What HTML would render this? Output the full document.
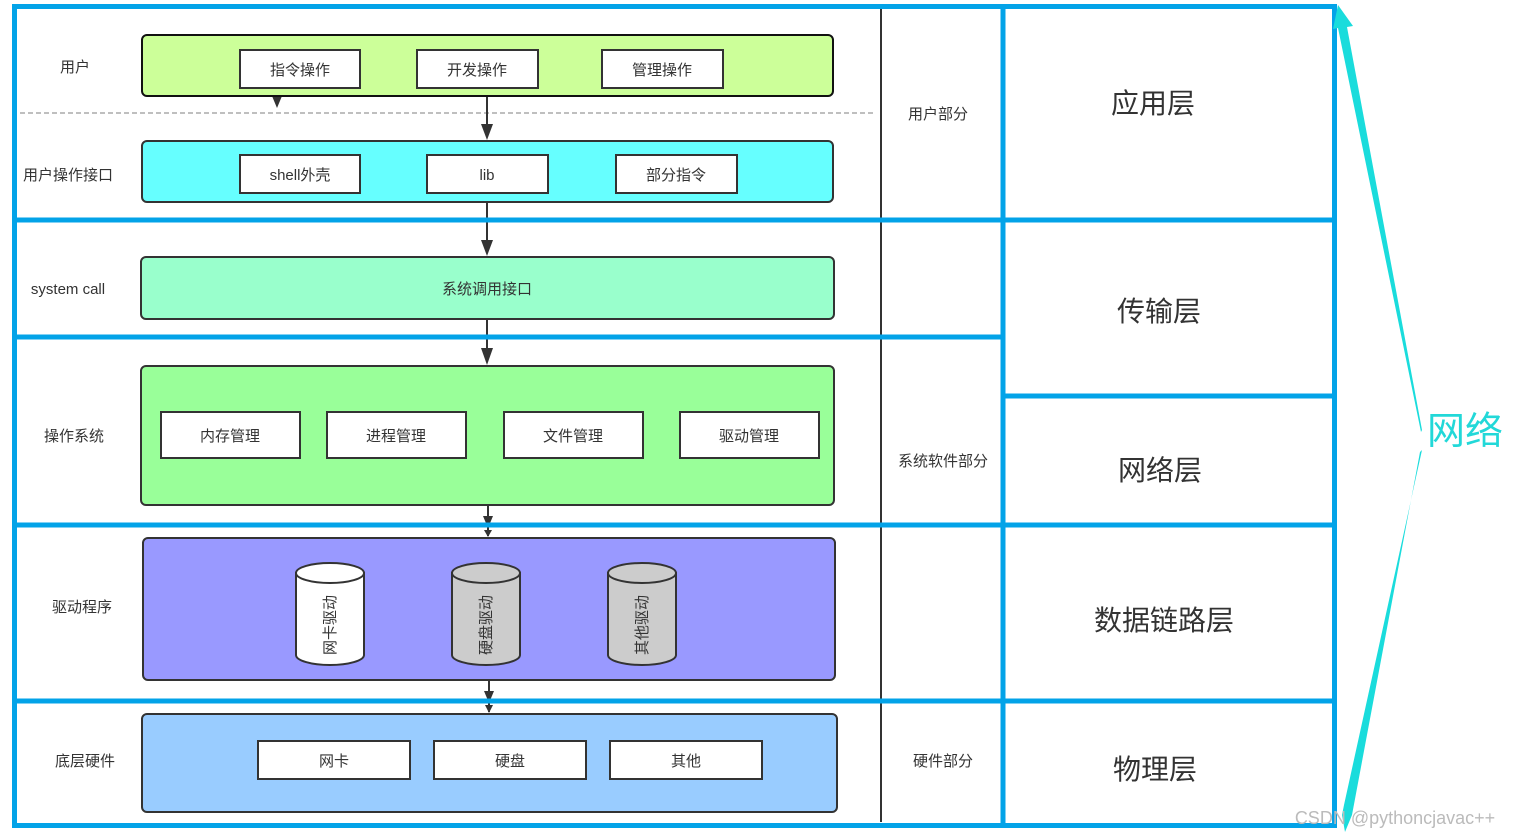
<!DOCTYPE html>
<html><head><meta charset="utf-8"><style>
html,body{margin:0;padding:0;background:#fff;width:1514px;height:837px;overflow:hidden}
text{font-family:"Liberation Sans","Noto Sans CJK SC",sans-serif;fill:#333}
</style></head><body>
<svg width="1514" height="837" viewBox="0 0 1514 837" xmlns="http://www.w3.org/2000/svg">
<line x1="20" y1="113" x2="876" y2="113" stroke="#aaa" stroke-width="1.5" stroke-dasharray="5,3"/>
<line x1="881" y1="8" x2="881" y2="822" stroke="#333" stroke-width="2"/>
<g stroke="#333" stroke-width="2" fill="none">
<line x1="487" y1="96" x2="487" y2="128"/>
<line x1="487" y1="202" x2="487" y2="244"/>
<line x1="487" y1="319" x2="487" y2="352"/>
<line x1="488" y1="505" x2="488" y2="536"/>
<line x1="489" y1="680" x2="489" y2="712"/>
</g>
<g fill="#333">
<path d="M481,124 L493,124 L487,140 Z"/>
<path d="M481,240 L493,240 L487,256 Z"/>
<path d="M481,348 L493,348 L487,365 Z"/>
<path d="M272,96 L282,96 L277,108 Z"/>
<path d="M483,516 L493,516 L488,528 Z"/>
<path d="M484,530 L492,530 L488,537 Z"/>
<path d="M484,691 L494,691 L489,703 Z"/>
<path d="M485,705 L493,705 L489,713 Z"/>
</g>
<g stroke="#03a3e8" stroke-width="5" fill="none">
<rect x="14.5" y="6.5" width="1320" height="819"/>
<line x1="1003" y1="6" x2="1003" y2="826"/>
<line x1="14" y1="220" x2="1335" y2="220"/>
<line x1="14" y1="337" x2="1003" y2="337"/>
<line x1="1003" y1="396" x2="1335" y2="396"/>
<line x1="14" y1="525" x2="1335" y2="525"/>
<line x1="14" y1="701" x2="1335" y2="701"/>
</g>
<g stroke="#333" stroke-width="2">
<rect x="142" y="35" width="691" height="61" rx="5" fill="#ccff99" stroke="#111"/>
<rect x="142" y="141" width="691" height="61" rx="5" fill="#66ffff"/>
<rect x="141" y="257" width="693" height="62" rx="5" fill="#99ffcc"/>
<rect x="141" y="366" width="693" height="139" rx="5" fill="#99ff99"/>
<rect x="143" y="538" width="692" height="142" rx="5" fill="#9999ff"/>
<rect x="142" y="714" width="695" height="98" rx="5" fill="#99ccff"/>
</g>
<g stroke="#333" stroke-width="2" fill="#fff">
<rect x="240" y="50" width="120" height="38"/><rect x="417" y="50" width="121" height="38"/><rect x="602" y="50" width="121" height="38"/>
<rect x="240" y="155" width="120" height="38"/><rect x="427" y="155" width="121" height="38"/><rect x="616" y="155" width="121" height="38"/>
<rect x="161" y="412" width="139" height="46"/><rect x="327" y="412" width="139" height="46"/><rect x="504" y="412" width="139" height="46"/><rect x="680" y="412" width="139" height="46"/>
<rect x="258" y="741" width="152" height="38"/><rect x="434" y="741" width="152" height="38"/><rect x="610" y="741" width="152" height="38"/>
</g>
<g stroke="#333" stroke-width="2">
<path d="M296,573 L296,655 A34,10 0 0 0 364,655 L364,573 Z" fill="#fff"/><ellipse cx="330" cy="573" rx="34" ry="10" fill="#fff"/>
<path d="M452,573 L452,655 A34,10 0 0 0 520,655 L520,573 Z" fill="#ccc"/><ellipse cx="486" cy="573" rx="34" ry="10" fill="#ccc"/>
<path d="M608,573 L608,655 A34,10 0 0 0 676,655 L676,573 Z" fill="#ccc"/><ellipse cx="642" cy="573" rx="34" ry="10" fill="#ccc"/>
</g>
<g font-size="15" text-anchor="middle">
<text x="330" y="625" transform="rotate(-90 330 625)" dy="5">网卡驱动</text>
<text x="486" y="625" transform="rotate(-90 486 625)" dy="5">硬盘驱动</text>
<text x="642" y="625" transform="rotate(-90 642 625)" dy="5">其他驱动</text>
</g>
<g font-size="15" text-anchor="middle">
<text x="300" y="75">指令操作</text><text x="477" y="75">开发操作</text><text x="662" y="75">管理操作</text>
<text x="300" y="180">shell外壳</text><text x="487" y="180">lib</text><text x="676" y="180">部分指令</text>
<text x="487" y="294">系统调用接口</text>
<text x="230" y="441">内存管理</text><text x="396" y="441">进程管理</text><text x="573" y="441">文件管理</text><text x="749" y="441">驱动管理</text>
<text x="334" y="766">网卡</text><text x="510" y="766">硬盘</text><text x="686" y="766">其他</text>
<text x="75" y="72">用户</text><text x="68" y="180">用户操作接口</text><text x="68" y="294">system call</text>
<text x="74" y="441">操作系统</text><text x="82" y="612">驱动程序</text><text x="85" y="766">底层硬件</text>
<text x="938" y="119">用户部分</text><text x="943" y="466">系统软件部分</text><text x="943" y="766">硬件部分</text>
</g>
<g font-size="28" text-anchor="middle">
<text x="1153" y="113" fill="#111">应用层</text><text x="1159" y="321" fill="#111">传输层</text><text x="1160" y="480" fill="#111">网络层</text>
<text x="1164" y="630" fill="#111">数据链路层</text><text x="1155" y="779" fill="#111">物理层</text>
</g>
<path d="M1338,5 L1353,26 L1347,27 L1422,430 L1421,432 L1338,28 L1333,29 Z" fill="#1adcdc"/>
<path d="M1422,450 L1420,452 L1352,815 L1345,832 L1342,815 L1344,805 Z" fill="#1adcdc"/>
<text x="1465" y="444" font-size="38" text-anchor="middle" style="fill:#22d8d8">网络</text>
<text x="1395" y="824" font-size="18" text-anchor="middle" style="fill:#bbb">CSDN @pythoncjavac++</text>
</svg>
</body></html>
